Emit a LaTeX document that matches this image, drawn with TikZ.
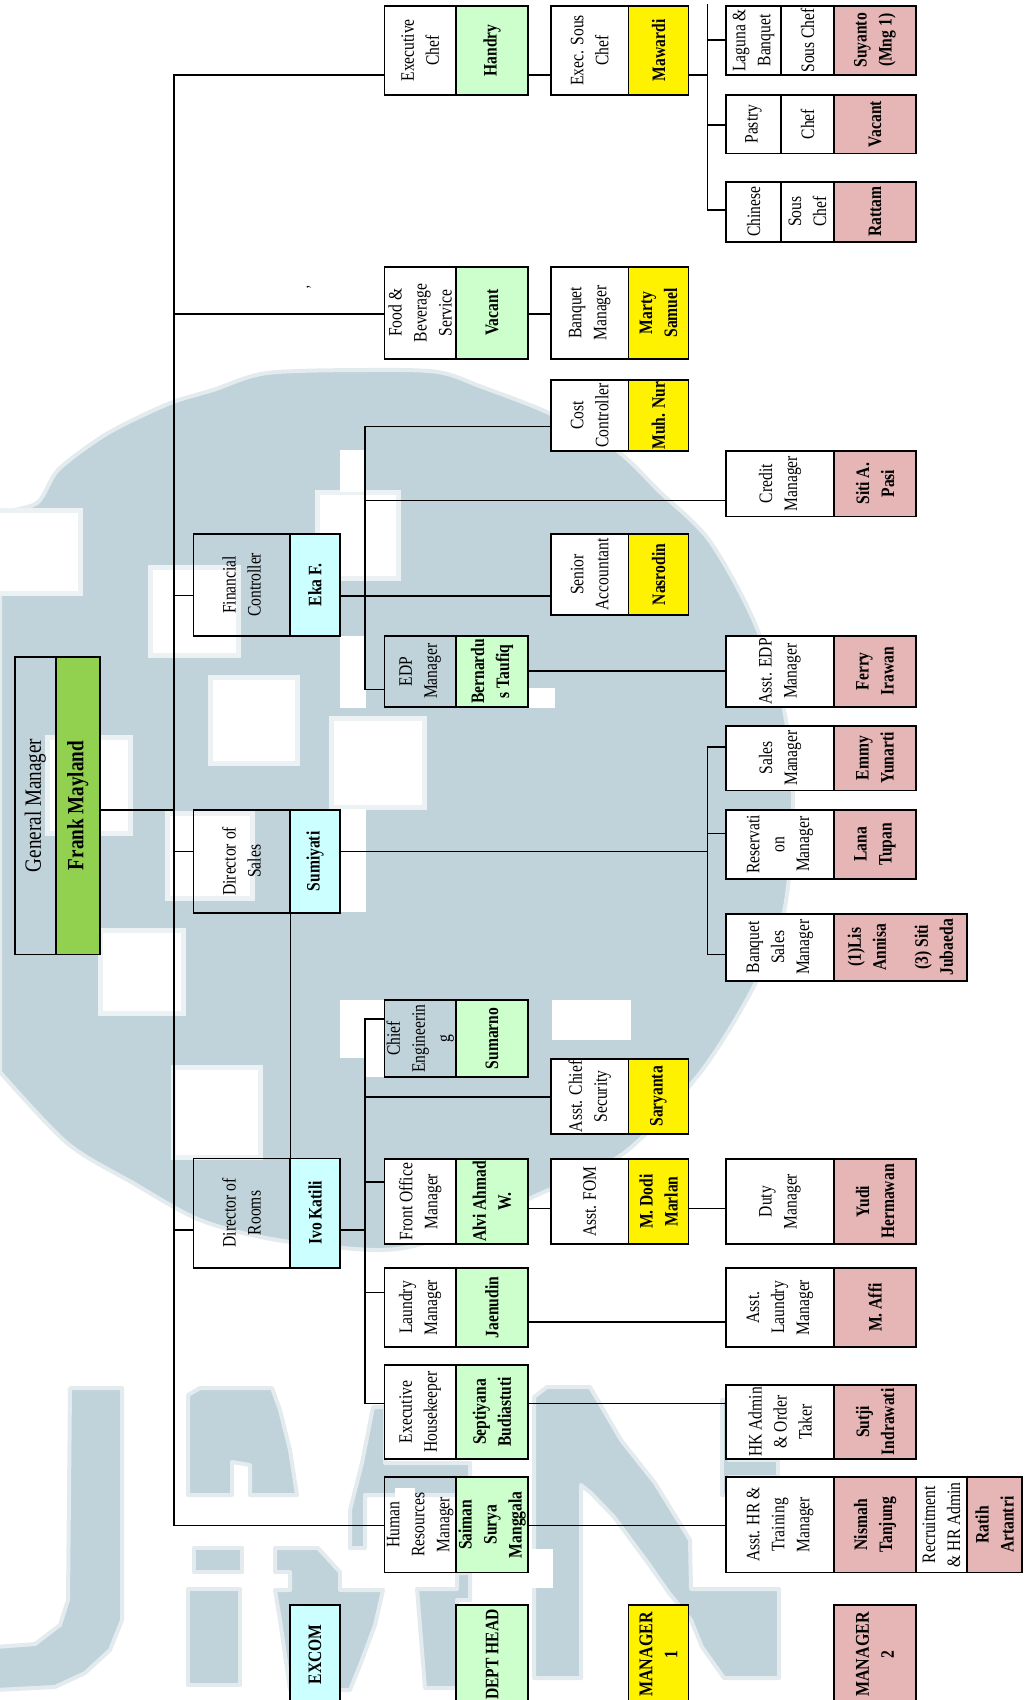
\documentclass[tikz,border=0pt]{standalone}
\usepackage{fontspec}
\setmainfont[FakeStretch=0.82]{Liberation Serif}
\definecolor{wmark}{HTML}{C0D2DA}
\definecolor{gmgreen}{HTML}{92D050}
\definecolor{hodgreen}{HTML}{CCFFCC}
\definecolor{excyan}{HTML}{CCFFFF}
\definecolor{mgrpink}{HTML}{E6B5B5}
\tikzset{
	cell/.style={draw=black,line width=1.6pt,inner sep=0pt,outer sep=0pt,rotate=90,align=center,font=\fontsize{19}{25}\selectfont},
	post/.style={fill=white},
	person/.style={font=\fontsize{19}{25}\selectfont\bfseries},
	gm/.style={person,fill=gmgreen,font=\fontsize{23.3}{25}\selectfont\bfseries},
	excom/.style={person,fill=excyan},
	head/.style={person,fill=hodgreen},
	mgrone/.style={person,fill=yellow},
	mgrtwo/.style={person,fill=mgrpink},
	link/.style={line width=1.5pt,line cap=rect},
	wm/.style={fill=wmark,draw=wmark!45,line width=4pt,line join=round},
}
\newcommand{\orgcell}[7][]{%
	\pgfmathsetmacro\cellw{#6-#5}\pgfmathsetmacro\cellh{#4-#3}%
	\node[cell,#1,minimum width=\cellw pt,minimum height=\cellh pt] (#2) at ({(#3+#4)/2},{(#5+#6)/2}) {#7};}
\begin{document}
\begin{tikzpicture}[x=1pt,y=-1pt]
	\useasboundingbox (0,0) rectangle (1032,1700);
	% watermark
	\path[wm] plot[smooth] coordinates {(0,512) (37,503) (58,470) (100,438) (133,420) (173,402) (213,390) (267,373) (367,370) (438,372) (482,387) (549,413) (616,450) (660,492) (709,540) (753,619) (784,710) (793,805) (784,912) (753,988) (700,1073) (624,1153) (535,1196) (450,1235) (383,1250) (277,1240) (200,1220) (133,1183) (67,1143) (0,1072)} -- cycle;
	\path[wm] (70,1388) -- (122,1388) -- (122,1620) -- (110,1650) -- (85,1673) -- (55,1687) -- (-5,1690) -- (-5,1647) -- (35,1644) -- (60,1625) -- (68,1600) -- cycle;
	\path[wm] (188,1395) -- (200,1388) -- (272,1388) -- (280,1410) -- (290,1450) -- (297,1495) -- (250,1495) -- (250,1465) -- (232,1462) -- (232,1495) -- (188,1495) -- cycle;
	\path[wm] (194,1548) rectangle (242,1572);
	\path[wm] (188,1589) rectangle (240,1685);
	\path[wm] (275,1548) -- (318,1548) -- (340,1572) -- (340,1590) -- (383,1590) -- (375,1625) -- (362,1660) -- (350,1690) -- (290,1690) -- (280,1620) -- (275,1590) -- (290,1590) -- (290,1572) -- (275,1572) -- cycle;
	\path[wm] (373,1407) -- (385,1407) -- (385,1463) -- (470,1463) -- (470,1495) -- (365,1495) -- (365,1548) -- (350,1548) -- (350,1510) -- (362,1463) -- cycle;
	\path[wm] (417,1589) -- (457,1589) -- (457,1573) -- (470,1573) -- (470,1600) -- (457,1600) -- (457,1688) -- (425,1688) -- cycle;
	\path[wm] (534,1397) -- (547,1387) -- (590,1387) -- (621,1440) -- (655,1483) -- (690,1540) -- (691,1589) -- (779,1589) -- (779,1678) -- (724,1678) -- (702,1647) -- (691,1620) -- (669,1593) -- (648,1563) -- (614,1517) -- (591,1493) -- (581,1485) -- (581,1678) -- (534,1678) -- cycle;
	\path[wm] (722,1400) -- (729,1400) -- (729,1460) -- (778,1460) -- (778,1477) -- (729,1477) -- (729,1495) -- (722,1495) -- cycle;
	\foreach \xa/\ya/\xb/\yb in {-5/510/80/593,150/567/238/655,317/492/398/578,210/677/297/763,331/718/424/807,47/737/130/833,167/813/252/898,100/930/183/1013,173/1067/260/1157}
		\path[fill=white,draw=wmark!30,line width=5pt] (\xa,\ya) rectangle (\xb,\yb);
	\foreach \xa/\ya/\xb/\yb in {340/450/365/492,340/636/366/708,340/809/366/912,529/688/555/708,340/1000/385/1058,365/1058/385/1077,552/1000/631/1040,395/1488/415/1572,528/1549/553/1588}
		\fill[white] (\xa,\ya) rectangle (\xb,\yb);
	% general manager
	\orgcell{gmT}{15}{55.7}{656.7}{954.3}{\fontsize{23.3}{25}\selectfont General Manager}
	\orgcell[gm]{gmN}{55.7}{100}{656.7}{954.3}{Frank Mayland}
	% excom
	\orgcell{finT}{193.3}{290}{534}{635.7}{Financial\\Controller}
	\orgcell[excom]{finN}{290}{340}{534}{635.7}{Eka F.}
	\orgcell{salT}{193.3}{290}{810}{912.7}{Director of\\Sales}
	\orgcell[excom]{salN}{290}{340}{810}{912.7}{Sumiyati}
	\orgcell{romT}{193.3}{290}{1158.3}{1267.7}{Director of\\Rooms}
	\orgcell[excom]{romN}{290}{340}{1158.3}{1267.7}{Ivo Katili}
	\orgcell[excom]{lgE}{290}{340}{1605}{1704}{EXCOM}
	% dept heads
	\orgcell[post]{chfT}{384.4}{456}{5.7}{95}{Executive\\Chef}
	\orgcell[head]{chfN}{456}{528}{5.7}{95}{Handry}
	\orgcell[post]{fbsT}{384.4}{456}{266.7}{359}{Food \&\\Beverage\\Service}
	\orgcell[head]{fbsN}{456}{528}{266.7}{359}{Vacant}
	\orgcell{edpT}{384.4}{456}{635.7}{706.9}{EDP\\Manager}
	\orgcell[head]{edpN}{456}{528}{635.7}{706.9}{Bernardu\\s Taufiq}
	\orgcell{cheT}{384.4}{456}{1000}{1077}{Chief\\Engineerin\\g}
	\orgcell[head]{cheN}{456}{528}{1000}{1077}{Sumarno}
	\orgcell[post]{fomT}{384.4}{456}{1159}{1244}{Front Office\\Manager}
	\orgcell[head]{fomN}{456}{528}{1159}{1244}{Alvi Ahmad\\W.}
	\orgcell[post]{lauT}{384.4}{456}{1268}{1347}{Laundry\\Manager}
	\orgcell[head]{lauN}{456}{528}{1268}{1347}{Jaenudin}
	\orgcell[post]{hskT}{384.4}{456}{1365}{1459}{Executive\\Housekeeper}
	\orgcell[head]{hskN}{456}{528}{1365}{1459}{Septiyana\\Budiastuti}
	\orgcell{hrmT}{384.4}{456}{1476.8}{1572.6}{Human\\Resources\\Manager}
	\orgcell[head]{hrmN}{456}{528}{1476.8}{1572.6}{Saiman\\Surya\\Manggala}
	\orgcell[head]{lgH}{456}{528}{1605}{1704}{DEPT HEAD}
	% manager 1
	\orgcell[post]{souT}{551}{628.5}{5.7}{95}{Exec. Sous\\Chef}
	\orgcell[mgrone]{souN}{628.5}{688.5}{5.7}{95}{Mawardi}
	\orgcell[post]{bnqT}{551}{628.5}{266.7}{359}{Banquet\\Manager}
	\orgcell[mgrone]{bnqN}{628.5}{688.5}{266.7}{359}{Marty\\Samuel}
	\orgcell[post]{cstT}{551}{628.5}{379.9}{451}{Cost\\Controller}
	\orgcell[mgrone]{cstN}{628.5}{688.5}{379.9}{451}{Muh. Nur}
	\orgcell[post]{senT}{551}{628.5}{534}{615}{Senior\\Accountant}
	\orgcell[mgrone]{senN}{628.5}{688.5}{534}{615}{Nasrodin}
	\orgcell[post]{secT}{551}{628.5}{1059}{1133.7}{Asst. Chief\\Security}
	\orgcell[mgrone]{secN}{628.5}{688.5}{1059}{1133.7}{Saryanta}
	\orgcell[post]{afoT}{551}{628.5}{1159}{1244}{Asst. FOM}
	\orgcell[mgrone]{afoN}{628.5}{688.5}{1159}{1244}{M. Dodi\\Marlan}
	\orgcell[mgrone]{lgA}{628.5}{688.5}{1605}{1704}{\fontsize{19.5}{25}\selectfont MANAGER\\1}
	% manager 2
	\orgcell[post]{lagA}{726}{781}{5.7}{75}{Laguna \&\\Banquet}
	\orgcell[post]{lagB}{781}{834}{5.7}{75}{Sous Chef}
	\orgcell[mgrtwo]{lagN}{834}{916}{5.7}{75}{Suyanto\\(Mng 1)}
	\orgcell[post]{pasA}{726}{781}{95}{153.3}{Pastry}
	\orgcell[post]{pasB}{781}{834}{95}{153.3}{Chef}
	\orgcell[mgrtwo]{pasN}{834}{916}{95}{153.3}{Vacant}
	\orgcell[post]{chiA}{726}{781}{181.7}{241.7}{Chinese}
	\orgcell[post]{chiB}{781}{834}{181.7}{241.7}{Sous\\Chef}
	\orgcell[mgrtwo]{chiN}{834}{916}{181.7}{241.7}{Rattam}
	\orgcell[post]{creT}{726}{834}{451}{516.3}{Credit\\Manager}
	\orgcell[mgrtwo]{creN}{834}{916}{451}{516.3}{Siti A.\\Pasi}
	\orgcell[post]{aedT}{726}{834}{635.7}{706.9}{Asst. EDP\\Manager}
	\orgcell[mgrtwo]{aedN}{834}{916}{635.7}{706.9}{Ferry\\Irawan}
	\orgcell[post]{smgT}{726}{834}{725.9}{790.3}{Sales\\Manager}
	\orgcell[mgrtwo]{smgN}{834}{916}{725.9}{790.3}{Emmy\\Yunarti}
	\orgcell[post]{resT}{726}{834}{809.7}{878.9}{Reservati\\on\\Manager}
	\orgcell[mgrtwo]{resN}{834}{916}{809.7}{878.9}{Lana\\Tupan}
	\orgcell[post]{bsmT}{726}{834}{913.7}{980.9}{Banquet\\Sales\\Manager}
	\orgcell[mgrtwo]{bsmN}{834}{967}{913.7}{980.9}{(1)Lis\\Annisa\\[17pt](3) Siti\\Jubaeda}
	\orgcell[post]{dtyT}{726}{834}{1159}{1244}{Duty\\Manager}
	\orgcell[mgrtwo]{dtyN}{834}{916}{1159}{1244}{Yudi\\Hermawan}
	\orgcell[post]{alaT}{726}{834}{1268}{1347}{Asst.\\Laundry\\Manager}
	\orgcell[mgrtwo]{alaN}{834}{916}{1268}{1347}{M. Affi}
	\orgcell[post]{hkaT}{726}{834}{1384.7}{1459}{HK Admin\\\& Order\\Taker}
	\orgcell[mgrtwo]{hkaN}{834}{916}{1384.7}{1459}{Sutji\\Indrawati}
	\orgcell[post]{ahrT}{726}{834}{1476.8}{1572.6}{Asst. HR \&\\Training\\Manager}
	\orgcell[mgrtwo]{ahrN}{834}{916}{1476.8}{1572.6}{Nismah\\Tanjung}
	\orgcell[post]{recT}{916}{967}{1476.8}{1572.6}{Recruitment\\\& HR Admin}
	\orgcell[mgrtwo]{recN}{967}{1022}{1476.8}{1572.6}{Ratih\\Artantri}
	\orgcell[mgrtwo]{lgB}{834}{916}{1605}{1704}{\fontsize{19.5}{25}\selectfont MANAGER\\2}
	\node[font=\fontsize{16}{16}\selectfont,rotate=90,inner sep=0pt] (tick) at (312,287) {'};
	% buses
	\coordinate (main) at (174,0);
	\coordinate (bus) at (365,0);
	\coordinate (kit) at (707.5,0);
	\draw[link] (main |- 0,75)--(main |- 0,1525.3);
	\draw[link] (bus |- 0,426.5)--(bus |- 0,689.5);
	\draw[link] (bus |- 0,1019)--(bus |- 0,1403.6);
	\draw[link] (kit |- 0,5)--(kit |- 0,210);
	\draw[link] (kit |- 0,746.8)--(kit |- 0,954.4);
	\draw[link] (gmN.south |- 0,810)--(main |- 0,810);
	\foreach \n/\y in {chfT/75,fbsT/314,finT/595.7,salT/851.7,romT/1230,hrmT/1525.3}
		\draw[link] (main |- 0,\y)--(\n.north |- 0,\y);
	\foreach \n/\y in {edpT/689.5,cheT/1019,fomT/1181.8,lauT/1292.7,hskT/1403.6}
		\draw[link] (bus |- 0,\y)--(\n.north |- 0,\y);
	\foreach \n/\y in {cstT/426.5,creT/500.5,secT/1096.9}
		\draw[link] (bus |- 0,\y)--(\n.north |- 0,\y);
	\foreach \n/\y in {lagA/40,pasA/125,chiA/210,smgT/746.8,resT/833.4,bsmT/954.4}
		\draw[link] (kit |- 0,\y)--(\n.north |- 0,\y);
	\foreach \a/\b/\y in {chfN/souT/75,fbsN/bnqT/314,finN/senT/595.8,fomN/afoT/1208.7,afoN/dtyT/1208.7,edpN/aedT/670.9,lauN/alaT/1322,hskN/hkaT/1403.6,hrmN/ahrT/1525.3}
		\draw[link] (\a.south |- 0,\y)--(\b.north |- 0,\y);
	\draw[link] (souN.south |- 0,75)--(kit |- 0,75);
	\draw[link] (salN.south |- 0,851.6)--(kit |- 0,851.6);
	\draw[link] (romN.south |- 0,1230)--(bus |- 0,1230);
	\draw[line width=1pt] (salN.north west)--(romN.north east);
\end{tikzpicture}
\end{document}
